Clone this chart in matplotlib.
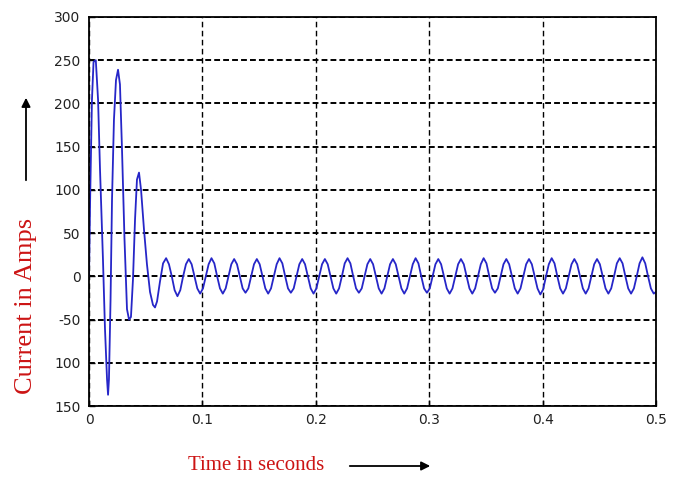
import numpy as np
import matplotlib.pyplot as plt
from matplotlib.ticker import FixedLocator, FixedFormatter

# inrush transient (time in s, current in A)
t_transient = [0.0, 0.001, 0.0026, 0.004, 0.006, 0.008, 0.0097, 0.0123, 0.0141,
               0.0159, 0.0168, 0.0176, 0.019, 0.0203, 0.022, 0.0238, 0.0256,
               0.0273, 0.0291, 0.0313, 0.0335, 0.0353, 0.037, 0.0388, 0.0406,
               0.0423, 0.0441, 0.0459, 0.0485, 0.0511, 0.0538, 0.0564, 0.0582,
               0.06, 0.0626, 0.0653]
i_transient = [0, 89, 204, 248, 250, 204, 124, 20, -61,
               -119, -137, -119, -27, 89, 181, 227, 239,
               222, 147, 43, -38, -50, -47, -3, 66,
               112, 120, 100, 54, 14, -18, -33, -36,
               -29, -6, 15]

# steady 50 Hz part, sampled every 1/8 cycle starting at the peak near 0.068 s
t_steady_start = 0.068
t_steady_step = 0.0025
i_steady = [
    21, 14, 0, -16, -23, -16, 0, 14,
    20, 14, 0, -14, -20, -14, 0, 14,
    21, 15, 0, -14, -20, -14, 0, 14,
    20, 14, 0, -14, -19, -14, 0, 14,
    20, 14, 0, -14, -20, -14, 0, 14,
    21, 15, 0, -14, -19, -14, 0, 14,
    20, 14, 0, -14, -20, -14, 0, 14,
    20, 14, 0, -14, -20, -14, 0, 15,
    21, 15, 0, -14, -19, -14, 0, 14,
    20, 14, 0, -14, -20, -14, 0, 14,
    20, 14, 0, -14, -20, -14, 0, 14,
    21, 15, 0, -14, -19, -14, 0, 14,
    20, 14, 0, -14, -20, -14, 0, 14,
    20, 14, 0, -14, -20, -14, 0, 14,
    21, 15, 0, -14, -19, -14, 0, 14,
    20, 14, 0, -14, -20, -14, 0, 14,
    20, 14, 0, -14, -21, -15, 0, 14,
    21, 15, 0, -14, -20, -14, 0, 14,
    20, 14, 0, -14, -20, -14, 0, 14,
    20, 14, 0, -14, -20, -14, 0, 15,
    21, 15, 0, -14, -20, -14, 0, 15,
    22, 15, 0, -14, -20,
]
t_end, i_end = 0.5, -18

x_ticks = [0, 0.1, 0.2, 0.3, 0.4, 0.5]
x_labels = ['0', '0.1', '0.2', '0.3', '0.4', '0.5']
y_ticks = [-150, -100, -50, 0, 50, 100, 150, 200, 250, 300]
y_labels = ['150', '100', '-50', '0', '50', '100', '150', '200', '250', '300']

t_steady = t_steady_start + t_steady_step * np.arange(len(i_steady))
t = np.concatenate([t_transient, t_steady, [t_end]])
i = np.concatenate([i_transient, i_steady, [i_end]])

W, H = 678, 479
fig = plt.figure(figsize=(W / 100, H / 100), dpi=100)
ax = fig.add_axes([89 / W, 1 - 406 / H, (656 - 89) / W, (406 - 17) / H])

ax.plot(t, i, color='#2626c8', lw=1.3)

ax.set_xlim(0, 0.5)
ax.set_ylim(-150, 300)
ax.xaxis.set_major_locator(FixedLocator(x_ticks))
ax.xaxis.set_major_formatter(FixedFormatter(x_labels))
ax.yaxis.set_major_locator(FixedLocator(y_ticks))
ax.yaxis.set_major_formatter(FixedFormatter(y_labels))
ax.tick_params(direction='in', length=4, width=1, colors='black',
               labelcolor='#222222', labelsize=10, pad=6)
ax.tick_params(axis='x', pad=5)

ax.grid(axis='y', color='black', lw=1.4, linestyle=(0, (3, 1.6)))
ax.grid(axis='x', color='black', lw=1.0, linestyle=(0, (4, 2.5)))
for s in ax.spines.values():
    s.set_color('black')
    s.set_linewidth(1.3)

# axis captions with arrows, placed in pixel terms of the original
fig.text(26 / W, 1 - 306 / H, 'Current in Amps', rotation=90, color='#cc1414',
         family='Liberation Serif', fontsize=19, ha='center', va='center')
fig.text(256 / W, 1 - 465 / H, 'Time in seconds', color='#cc1414',
         family='Liberation Serif', fontsize=15, ha='center', va='center')
ax.annotate('', xy=(26 / W, 1 - 95 / H), xytext=(26 / W, 1 - 183 / H),
            xycoords='figure fraction', textcoords='figure fraction',
            arrowprops=dict(arrowstyle='-|>', color='black', lw=1.3, mutation_scale=13))
ax.annotate('', xy=(433 / W, 1 - 466 / H), xytext=(347 / W, 1 - 466 / H),
            xycoords='figure fraction', textcoords='figure fraction',
            arrowprops=dict(arrowstyle='-|>', color='black', lw=1.3, mutation_scale=13))

fig.savefig('out.png', dpi=100)
